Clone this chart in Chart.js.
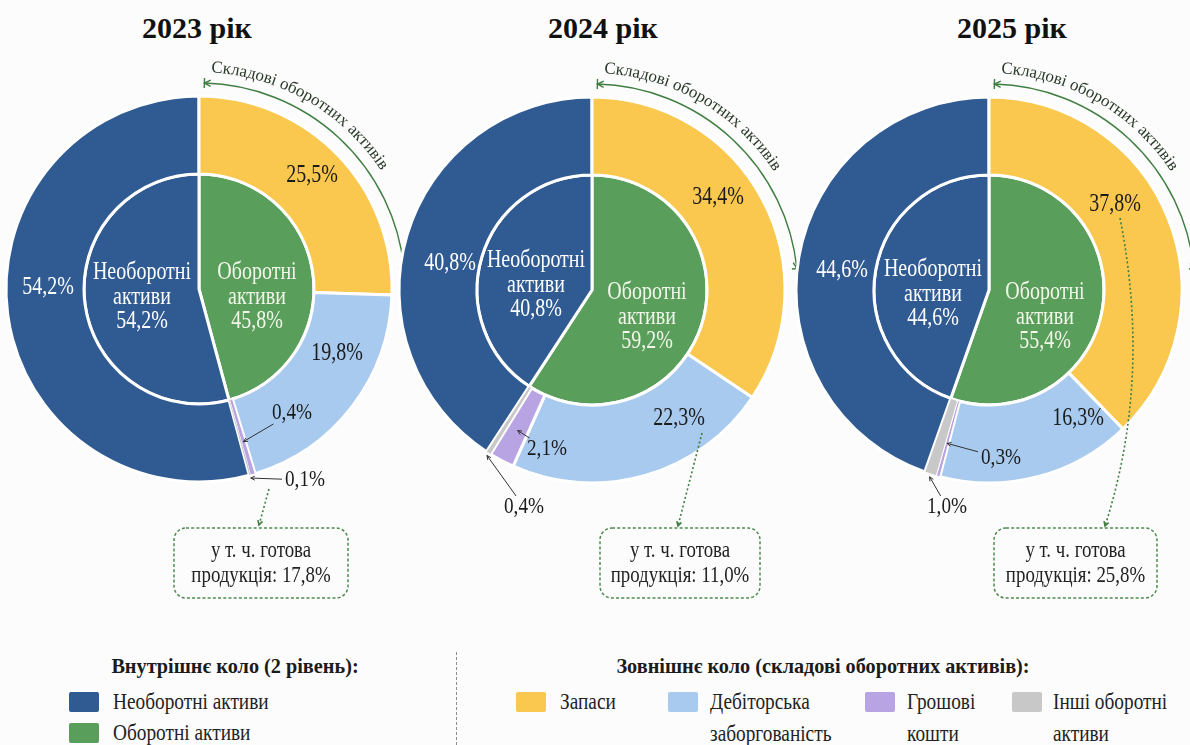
<!DOCTYPE html>
<html>
<head>
<meta charset="utf-8">
<title>Структура активів 2023–2025</title>
<script src="https://cdn.jsdelivr.net/npm/chart.js@4.4.1/dist/chart.umd.min.js"></script>
<style>
  html, body { margin: 0; padding: 0; }
  body {
    width: 1190px; height: 745px; position: relative; overflow: hidden;
    background: #fcfcfc; color: #1b1b1b;
    font-family: 'Liberation Serif', 'Times New Roman', serif;
  }
  .pie   { position: absolute; top: 0; }
  .year  { position: absolute; top: 11px; font-size: 30px; line-height: 34px; font-weight: bold;
           white-space: nowrap; transform: translateX(-50%); color: #111; }
  .lg-title { position: absolute; font-size: 22px; line-height: 28px; font-weight: bold; white-space: nowrap;
              transform: translateX(-50%) scaleX(.92); }
  .sw    { position: absolute; width: 30px; height: 20px; border-radius: 2px; }
  .lg-text { position: absolute; font-size: 23px; line-height: 32px; white-space: pre; color: #222;
             transform: scaleX(.84); transform-origin: left top; }
  .sep   { position: absolute; left: 456px; top: 652px; height: 93px; border-left: 1px dashed #8c8c8c; }
</style>
</head>
<body>
<script>
'use strict';

/* ── DATA (% of total assets) ─────────────────────────── */
const years         = ['2023', '2024', '2025'];
const innerNames    = ['Необоротні активи', 'Оборотні активи'];
const outerNames    = ['Запаси', 'Дебіторська заборгованість', 'Грошові кошти', 'Інші оборотні активи'];
const nonCurrent    = [54.2, 40.8, 44.6];
const current       = [45.8, 59.2, 55.4];
const inventories   = [25.5, 34.4, 37.8];
const receivables   = [19.8, 22.3, 16.3];
const cash          = [0.4, 2.1, 0.3];
const otherCurrent  = [0.1, 0.4, 1.0];
const finishedGoods = [17.8, 11.0, 25.8];

/* ── COLOURS ─────────────────────────── */
const navy        = '#2f5a92';
const green       = '#5a9e5c';
const outerColors = ['#fac84e', '#a8caee', '#b8a3e3', '#c8c8c8'];
const ink         = '#1b1b1b';
const noteGreen   = '#3f7d40';

/* ── LAYOUT ─────────────────────────── */
const FONT   = "'Liberation Serif', 'Times New Roman', serif";
const R_OUT  = 193;              // outer ring radius
const R_IN   = 115;              // inner pie radius
const CW = 460, CH = 620;        // canvas size for one pie
const centers   = [[199, 289], [592, 290], [989, 290]];
const titleX    = [197, 603, 1012];

// label offsets from the pie centre
const layout = [
  {
    nonCur: [-151, -2],
    inner:  [[58, 8], [-57, 8]],                       // оборотні, необоротні
    outer:  [[113, -114], [138, 64], [93, 124], [106, 191]],
    lead:   { from: [70, 200], to: [60, 236] },
    box:    [-25, 239, 174, 70],
  },
  {
    nonCur: [-142, -27],
    inner:  [[55, 27], [-56, -5]],
    outer:  [[126, -93], [87, 128], [-45, 159], [-68, 217]],
    lead:   { from: [110, 143], to: [86, 236] },
    box:    [8, 238, 160, 70],
  },
  {
    nonCur: [-147, -20],
    inner:  [[56, 27], [-56, 4]],
    outer:  [[126, -86], [89, 128], [12, 168], [-42, 217]],
    lead:   { from: [131, -72], ctrl: [163, 90], to: [116, 236] },
    box:    [5, 238, 163, 70],
  },
];

const fmt = v => v.toFixed(1).replace('.', ',') + '%';

/* ── DRAW HELPERS ─────────────────────────── */
// centred text, squeezed horizontally by sx
function label(ctx, s, x, y, size, color, sx = 0.8) {
  ctx.save();
  ctx.font = size + 'px ' + FONT;
  ctx.fillStyle = color;
  ctx.textAlign = 'center';
  ctx.textBaseline = 'middle';
  ctx.translate(x, y);
  ctx.scale(sx, 1);
  ctx.fillText(s, 0, 0);
  const w = ctx.measureText(s).width * sx;
  ctx.restore();
  return w;
}

function arrowHead(ctx, x, y, ang, size, spread = 0.45) {
  ctx.beginPath();
  ctx.moveTo(x - size * Math.cos(ang - spread), y - size * Math.sin(ang - spread));
  ctx.lineTo(x, y);
  ctx.lineTo(x - size * Math.cos(ang + spread), y - size * Math.sin(ang + spread));
  ctx.stroke();
}

// short arrow from a label box to a thin slice
function pointer(ctx, lx, ly, w, tx, ty) {
  const dx = tx - lx, dy = ty - ly, d = Math.hypot(dx, dy);
  const ux = dx / d, uy = dy / d;
  const t = Math.min((w / 2 + 3) / Math.max(Math.abs(ux), 1e-6), 11 / Math.max(Math.abs(uy), 1e-6));
  if (t >= d - 3) return;
  ctx.save();
  ctx.strokeStyle = '#333';
  ctx.lineWidth = 1;
  ctx.beginPath();
  ctx.moveTo(lx + ux * t, ly + uy * t);
  ctx.lineTo(tx, ty);
  ctx.stroke();
  arrowHead(ctx, tx, ty, Math.atan2(dy, dx), 4.5);
  ctx.restore();
}

// curved bracket "Складові оборотних активів" over the current-assets part of the ring
function spanNote(ctx, cx, cy) {
  const r = 206, a0 = -88.5 * Math.PI / 180, a1 = -6 * Math.PI / 180;
  const px = a => cx + r * Math.cos(a), py = a => cy + r * Math.sin(a);
  ctx.save();
  ctx.strokeStyle = noteGreen;
  ctx.lineWidth = 1.4;
  ctx.beginPath();
  ctx.arc(cx, cy, r, a0, a1);
  ctx.stroke();
  [a0, a1].forEach(a => {
    ctx.beginPath();
    ctx.moveTo(cx + (r - 5) * Math.cos(a), cy + (r - 5) * Math.sin(a));
    ctx.lineTo(cx + (r + 5) * Math.cos(a), cy + (r + 5) * Math.sin(a));
    ctx.stroke();
  });
  arrowHead(ctx, px(a0), py(a0), Math.atan2(-Math.cos(a0), Math.sin(a0)), 7);
  arrowHead(ctx, px(a1), py(a1), Math.atan2(Math.cos(a1), -Math.sin(a1)), 7);

  // text along the arc
  const s = 'Складові оборотних активів';
  const rt = 217, mid = -60 * Math.PI / 180;
  ctx.font = '17px ' + FONT;
  ctx.fillStyle = '#2a3a2a';
  ctx.textAlign = 'center';
  ctx.textBaseline = 'alphabetic';
  let a = mid - ctx.measureText(s).width / rt / 2;
  for (const ch of s) {
    const w = ctx.measureText(ch).width;
    const am = a + w / 2 / rt;
    ctx.save();
    ctx.translate(cx + rt * Math.cos(am), cy + rt * Math.sin(am));
    ctx.rotate(am + Math.PI / 2);
    ctx.fillText(ch, 0, 0);
    ctx.restore();
    a += w / rt;
  }
  ctx.restore();
}

/* ── LABEL PLUGIN ─────────────────────────── */
function notesPlugin(i) {
  const lp = layout[i];
  return {
    id: 'notes' + i,
    afterDatasetsDraw(chart) {
      const ctx = chart.ctx;
      const outer = chart.getDatasetMeta(0).data;
      const cx = outer[0].x, cy = outer[0].y;
      const outerVals = chart.data.datasets[0].data;

      // non-current share on the ring
      label(ctx, fmt(outerVals[0]), cx + lp.nonCur[0], cy + lp.nonCur[1], 25, '#ffffff');

      // components of current assets
      for (let k = 1; k < outerVals.length; k++) {
        const v = outerVals[k];
        const [dx, dy] = lp.outer[k - 1];
        const lx = cx + dx, ly = cy + dy;
        const w = label(ctx, fmt(v), lx, ly, v < 3 ? 24 : 25, ink);
        if (v < 3) {
          const arc = outer[k];
          const am = (arc.startAngle + arc.endAngle) / 2;
          const dist = Math.hypot(dx, dy);
          const rt = dist > R_OUT ? R_OUT + 3 : (arc.innerRadius + arc.outerRadius) / 2 + 5;
          pointer(ctx, lx, ly, w, cx + rt * Math.cos(am), cy + rt * Math.sin(am));
        }
      }

      // inner pie captions
      const innerVals = chart.data.datasets[1].data;
      [innerNames[1], innerNames[0]].forEach((name, k) => {
        const [dx, dy] = lp.inner[k];
        const words = name.split(' ');
        const lines = [words[0], words.slice(1).join(' '), fmt(innerVals[k])];
        const col = k === 0 ? '#f2f7ea' : '#ffffff';
        lines.forEach((t, j) => label(ctx, t, cx + dx, cy + dy + (j - 1) * 24.5, 25, col));
      });

      spanNote(ctx, cx, cy);

      // dotted leader to the finished-goods note
      const L = lp.lead;
      ctx.save();
      ctx.strokeStyle = noteGreen;
      ctx.lineWidth = 1.6;
      ctx.setLineDash([2, 2.4]);
      ctx.beginPath();
      ctx.moveTo(cx + L.from[0], cy + L.from[1]);
      let ang;
      if (L.ctrl) {
        ctx.quadraticCurveTo(cx + L.ctrl[0], cy + L.ctrl[1], cx + L.to[0], cy + L.to[1]);
        ang = Math.atan2(L.to[1] - L.ctrl[1], L.to[0] - L.ctrl[0]);
      } else {
        ctx.lineTo(cx + L.to[0], cy + L.to[1]);
        ang = Math.atan2(L.to[1] - L.from[1], L.to[0] - L.from[0]);
      }
      ctx.stroke();
      ctx.setLineDash([]);
      arrowHead(ctx, cx + L.to[0], cy + L.to[1], ang, 5, 0.5);

      // note box
      const [bx, by, bw, bh] = lp.box;
      ctx.setLineDash([3, 2.2]);
      ctx.lineWidth = 1.5;
      ctx.strokeStyle = '#4d8a4d';
      ctx.beginPath();
      ctx.roundRect(cx + bx, cy + by, bw, bh, 12);
      ctx.stroke();
      ctx.restore();
      const mx = cx + bx + bw / 2, my = cy + by + bh / 2;
      label(ctx, 'у т. ч. готова', mx, my - 12.5, 23, '#222', 0.82);
      label(ctx, 'продукція: ' + fmt(finishedGoods[i]), mx, my + 12.5, 23, '#222', 0.82);
    },
  };
}

/* ── PIES ─────────────────────────── */
// thin slices get a thinner separator so they stay visible
const sepWidth = c => (c.raw < 0.3 ? 0 : c.raw < 1.5 ? 1 : 3);

years.forEach((yr, i) => {
  const [cx, cy] = centers[i];

  const title = document.createElement('div');
  title.className = 'year';
  title.style.left = titleX[i] + 'px';
  title.textContent = yr + ' рік';
  document.body.appendChild(title);

  const canvas = document.createElement('canvas');
  canvas.className = 'pie';
  canvas.width = CW; canvas.height = CH;
  canvas.style.left = (cx - CW / 2) + 'px';
  canvas.style.width = CW + 'px';
  canvas.style.height = CH + 'px';
  document.body.appendChild(canvas);

  new Chart(canvas, {
    type: 'doughnut',
    data: {
      labels: [innerNames[0], ...outerNames],
      datasets: [
        {
          // outer ring: non-current first, starting where current assets end
          data:            [nonCurrent[i], inventories[i], receivables[i], cash[i], otherCurrent[i]],
          backgroundColor: [navy, ...outerColors],
          borderColor:     '#ffffff',
          borderWidth:     sepWidth,
          weight:          R_OUT - R_IN,
          rotation:        current[i] * 3.6,
        },
        {
          // inner pie (2nd level)
          data:            [current[i], nonCurrent[i]],
          backgroundColor: [green, navy],
          borderColor:     '#ffffff',
          borderWidth:     3,
          weight:          R_IN,
        },
      ],
    },
    options: {
      responsive: false,
      animation:  false,
      events:     [],
      cutout:     0,
      radius:     R_OUT,
      layout: { padding: { left: CW / 2 - R_OUT, right: CW / 2 - R_OUT, top: cy - R_OUT, bottom: CH - cy - R_OUT } },
      plugins: {
        legend:  { display: false },
        tooltip: { enabled: false },
      },
    },
    plugins: [notesPlugin(i)],
  });
});

/* ── LEGEND ─────────────────────────── */
function addEl(cls, css, text) {
  const el = document.createElement('div');
  el.className = cls;
  Object.assign(el.style, css);
  if (text !== undefined) el.textContent = text;
  document.body.appendChild(el);
  return el;
}

addEl('lg-title', { left: '235px', top: '652px' }, 'Внутрішнє коло (2 рівень):');
addEl('lg-title', { left: '823px', top: '652px' }, 'Зовнішнє коло (складові оборотних активів):');
addEl('sep', {});

[navy, green].forEach((c, k) => {
  const y = 702 + k * 31;
  addEl('sw', { left: '69px', top: (y - 10) + 'px', background: c });
  addEl('lg-text', { left: '113px', top: (y - 16) + 'px' }, innerNames[k]);
});

const swX   = [516, 668, 865, 1012];
const textX = [560, 710, 907, 1053];
outerNames.forEach((name, k) => {
  const cut = name.lastIndexOf(' ');
  const shown = cut > 0 ? name.slice(0, cut) + '\n' + name.slice(cut + 1) : name;
  addEl('sw', { left: swX[k] + 'px', top: '692px', background: outerColors[k] });
  addEl('lg-text', { left: textX[k] + 'px', top: '686px' }, shown);
});
</script>
</body>
</html>
